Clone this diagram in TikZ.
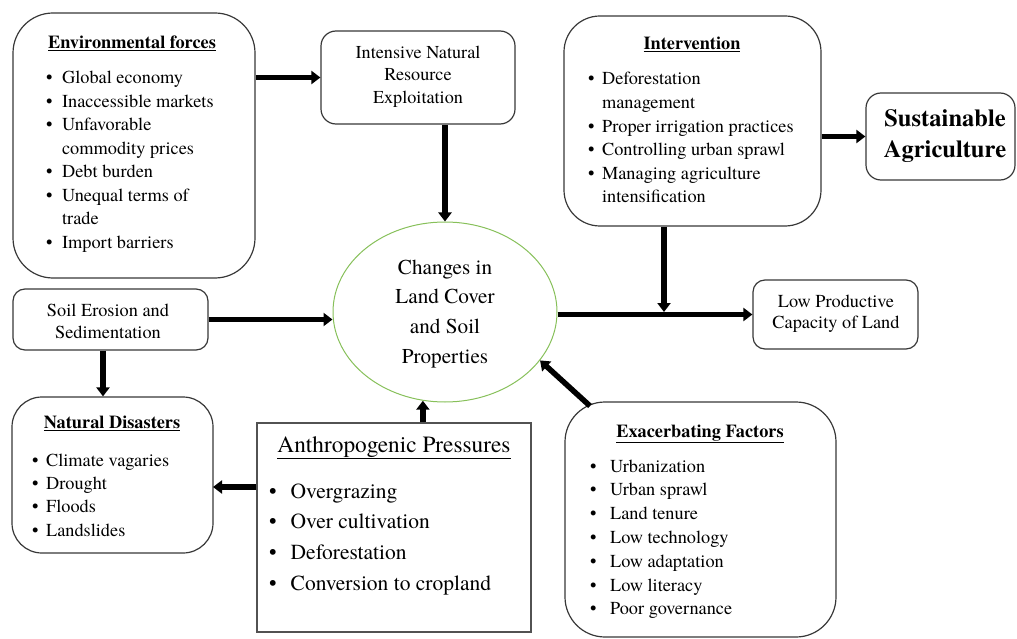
\documentclass[tikz,border=0pt]{standalone}
\usepackage{fontspec}
\setmainfont{TeX Gyre Termes}
\usetikzlibrary{arrows.meta,shapes.geometric,calc}
\newcommand\fsz[2]{\fontsize{#1}{#2}\selectfont}
\newcommand\bul{\textbullet}
\begin{document}
\begin{tikzpicture}[x=1pt,y=-1pt,
  box/.style={draw=black!78, line width=1.2pt, inner sep=0pt, rectangle},
  txt/.style={inner sep=0pt, anchor=base},
  lst/.style={inner sep=0pt, anchor=base west},
  arr/.style={line width=5.5pt, -{Triangle[length=9pt,width=13pt]}},
  greenell/.style={draw={rgb,255:red,135;green,192;blue,90}, line width=1pt, ellipse, inner sep=0pt}]
\useasboundingbox (0,0) rectangle (1017,639);
% boxes
\node[box, rounded corners=40pt, minimum width=242pt, minimum height=265pt] (env) at (134,145.5) {};
\node[box, rounded corners=15pt, minimum width=194pt, minimum height=93pt] (inre) at (418,77.5) {};
\node[box, rounded corners=36pt, minimum width=257pt, minimum height=210pt] (int) at (692.5,121) {};
\node[box, rounded corners=15pt, minimum width=149pt, minimum height=87pt] (sus) at (940.5,136.5) {};
\node[greenell, minimum width=224pt, minimum height=180pt] (ell) at (445,312) {};
\node[box, rounded corners=12pt, minimum width=195pt, minimum height=61pt] (soil) at (110.5,319.5) {};
\node[box, rounded corners=12pt, minimum width=165pt, minimum height=69pt] (lp) at (835.5,314.5) {};
\node[box, rounded corners=30pt, minimum width=201pt, minimum height=156pt] (nat) at (112.5,475) {};
\node[box, draw=black!68, minimum width=274pt, minimum height=209pt] (anth) at (394,527.5) {};
\node[box, rounded corners=40pt, minimum width=271pt, minimum height=235pt] (exac) at (700.5,519.5) {};
% texts
\node[txt, font=\fsz{18.3}{22}\bfseries] (envt) at (132,49) {\underline{Environmental forces}};
\node[lst, font=\fsz{18.3}{23.45}] (envl) at (46,84) {\begin{tabular}[t]{@{}l@{\hspace{9.5pt}}l@{}}
\bul & Global economy\\ \bul & Inaccessible markets\\ \bul & Unfavorable\\ & commodity prices\\
\bul & Debt burden\\ \bul & Unequal terms of\\ & trade\\ \bul & Import barriers\end{tabular}};
\node[txt, font=\fsz{18.2}{22.5}] (inret) at (418,58.5) {\begin{tabular}[t]{@{}c@{}}Intensive Natural\\Resource\\Exploitation\end{tabular}};
\node[txt, font=\fsz{18.3}{22}\bfseries] (intt) at (692,50) {\underline{Intervention}};
\node[lst, font=\fsz{18.3}{23.6}] (intl) at (588,85) {\begin{tabular}[t]{@{}l@{\hspace{7.5pt}}l@{}}
\bul & Deforestation\\ & management\\ \bul & Proper irrigation practices\\ \bul & Controlling urban sprawl\\
\bul & Managing agriculture\\ & intensification\end{tabular}};
\node[txt, font=\fsz{24.5}{31}\bfseries] (sust) at (945,127) {\begin{tabular}[t]{@{}c@{}}Sustainable\\Agriculture\end{tabular}};
\node[txt, font=\fsz{21.2}{29.7}] (ellt) at (445,274) {\begin{tabular}[t]{@{}c@{}}Changes in\\Land Cover\\and Soil\\Properties\end{tabular}};
\node[txt, font=\fsz{18.3}{22}] (soilt) at (108,316) {\begin{tabular}[t]{@{}c@{}}Soil Erosion and\\Sedimentation\end{tabular}};
\node[txt, font=\fsz{18.3}{21.5}] (lpt) at (836,307) {\begin{tabular}[t]{@{}c@{}}Low Productive\\Capacity of Land\end{tabular}};
\node[txt, font=\fsz{18.3}{22}\bfseries] (natt) at (112,428) {\underline{Natural Disasters}};
\node[lst, font=\fsz{18.3}{23.4}] (natl) at (32,466) {\begin{tabular}[t]{@{}l@{\hspace{7.5pt}}l@{}}
\bul & Climate vagaries\\ \bul & Drought\\ \bul & Floods\\ \bul & Landslides\end{tabular}};
\node[txt, font=\fsz{23.3}{28}] (antht) at (394,452) {\underline{Anthropogenic Pressures}};
\node[lst, font=\fsz{21.5}{30.7}] (anthl) at (269,498) {\begin{tabular}[t]{@{}l@{\hspace{14pt}}l@{}}
\bul & Overgrazing\\ \bul & Over cultivation\\ \bul & Deforestation\\ \bul & Conversion to cropland\end{tabular}};
\node[txt, font=\fsz{18.3}{22}\bfseries] (exact) at (700,437) {\underline{Exacerbating Factors}};
\node[lst, font=\fsz{18.3}{23.8}] (exacl) at (590,472) {\begin{tabular}[t]{@{}l@{\hspace{13.5pt}}l@{}}
\bul & Urbanization\\ \bul & Urban sprawl\\ \bul & Land tenure\\ \bul & Low technology\\
\bul & Low adaptation\\ \bul & Low literacy\\ \bul & Poor governance\end{tabular}};
% connector helper coordinates
\coordinate (jn) at (664,314.5);
\coordinate (natin) at (213,487);
\coordinate (exout) at (590,406);
% connectors
\draw[arr] (env.east |- inre.west) -- (inre.west);
\draw[arr] (inre.south -| ell.north) -- (ell.north);
\draw[arr] (int.east |- sus.west) -- (sus.west);
\draw[arr] (ell.east |- lp.west) -- (lp.west);
\draw[arr] (int.south -| jn) -- ([yshift=2.5pt]jn);
\draw[arr] (soil.east) -- (soil.east -| ell.west);
\draw[arr] (soil.south -| 103,0) -- (nat.north -| 103,0);
\draw[arr] (anth.west |- natin) -- (natin);
\draw[arr] (anth.north -| ell.256) -- (ell.256);
\draw[arr] (exout) -- (ell.-27);
\end{tikzpicture}
\end{document}
